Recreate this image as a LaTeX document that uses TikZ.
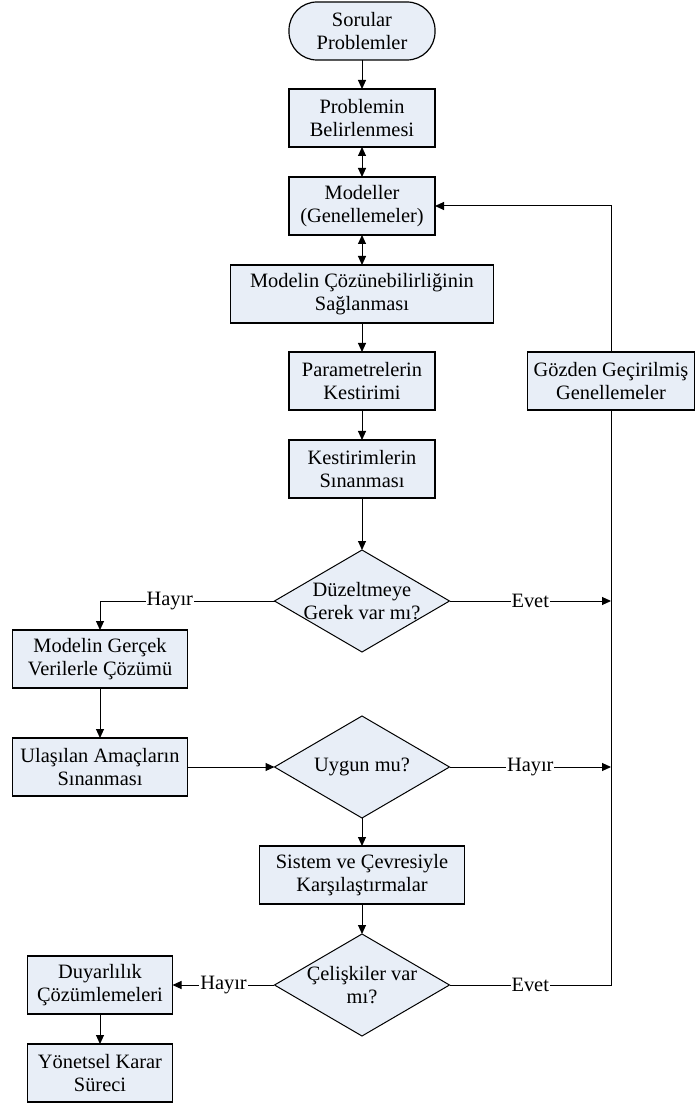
\documentclass[tikz,border=0pt]{standalone}
\usepackage{fontspec}
\setmainfont{Liberation Serif}
\usetikzlibrary{arrows.meta,positioning,shapes.geometric}
\definecolor{kutumavi}{RGB}{232,238,247}
\tikzset{
	%Define standard arrow tip
	>={Triangle[length=4.5pt,width=4pt]},
	%Define style for boxes
	kutu/.style={
		rectangle,
		draw=black, line width=0.6pt,
		fill=kutumavi,
		align=center,
		minimum width=73pt,
		minimum height=29pt,
		inner sep=1pt,
		outer sep=0pt},
	%Define style for the start box
	basla/.style={
		kutu,
		rounded corners=14pt},
	%Define style for decisions
	karar/.style={
		diamond,
		draw=black, line width=0.5pt,
		fill=kutumavi,
		align=center,
		aspect=1.7,
		inner sep=-4pt,
		outer sep=0pt,
		minimum width=87.5pt,
		minimum height=51pt},
	% Define arrow style
	ok/.style={
		->,
		line width=0.5pt},
	% Define style for yes/no labels
	etiket/.style={
		fill=white,
		inner sep=0.5pt}
}

\begin{document}
\begin{tikzpicture}[node distance=15pt, font=\fontsize{10.2}{11.5}\selectfont]
	
	\useasboundingbox (0,0) rectangle (347.5pt,-555.5pt);
	\coordinate (solkolon) at (50pt,0);
	\coordinate (sagkolon) at (305.5pt,0);
	
	\node[basla] (sorular) at (181pt,-15.5pt) {Sorular\\Problemler};
	\node[kutu, below=14.5pt of sorular] (problem) {Problemin\\Belirlenmesi};
	\node[kutu, below=of problem] (modeller) {Modeller\\(Genellemeler)};
	\node[kutu, below=of modeller, minimum width=131.5pt] (cozum) {Modelin Çözünebilirliğinin\\Sağlanması};
	\node[kutu, below=14.5pt of cozum] (param) {Parametrelerin\\Kestirimi};
	\node[kutu, below=of param] (kest) {Kestirimlerin\\Sınanması};
	\node[karar, below=26pt of kest] (duzelt) {Düzeltmeye\\Gerek var mı?};
	\node[karar, below=32pt of duzelt] (uygun) {Uygun mu?};
	\node[kutu, below=14pt of uygun, minimum width=102.5pt] (sistem) {Sistem ve Çevresiyle\\Karşılaştırmalar};
	\node[karar, below=of sistem] (celiski) {Çelişkiler var\\mı?};
	
	\node[kutu, below=14.5pt of {duzelt -| solkolon}, minimum width=87.5pt] (gercek) {Modelin Gerçek\\Verilerle Çözümü};
	\node[kutu, below=25pt of gercek, minimum width=87.5pt] (ulasilan) {Ulaşılan Amaçların\\Sınanması};
	\node[kutu, minimum width=72.5pt] (duyar) at (celiski -| solkolon) {Duyarlılık\\Çözümlemeleri};
	\node[kutu, below=of duyar, minimum width=72.5pt] (yonetsel) {Yönetsel Karar\\Süreci};
	
	\node[kutu, minimum width=83.5pt] (gozden) at (param -| sagkolon) {Gözden Geçirilmiş\\Genellemeler};
	
	\draw[ok] (sorular) -- (problem);
	\draw[ok, <->] (problem) -- (modeller);
	\draw[ok, <->] (modeller) -- (cozum);
	\draw[ok] (cozum) -- (param);
	\draw[ok] (param) -- (kest);
	\draw[ok] (kest) -- (duzelt);
	\draw[ok] (duzelt) -| node[etiket, pos=0.3] {Hayır} (gercek);
	\draw[ok] (duzelt) -- node[etiket] {Evet} (duzelt -| gozden);
	\draw[ok] (gercek) -- (ulasilan);
	\draw[ok] (ulasilan) -- (uygun);
	\draw[ok] (uygun) -- node[etiket] {Hayır} (uygun -| gozden);
	\draw[ok] (uygun) -- (sistem);
	\draw[ok] (sistem) -- (celiski);
	\draw[ok] (celiski) -- node[etiket] {Hayır} (duyar);
	\draw[ok] (duyar) -- (yonetsel);
	\draw[line width=0.5pt] (celiski) -- node[etiket] {Evet} (celiski -| gozden) -- (gozden);
	\draw[ok] (gozden) |- (modeller);
	
\end{tikzpicture}
\end{document}
